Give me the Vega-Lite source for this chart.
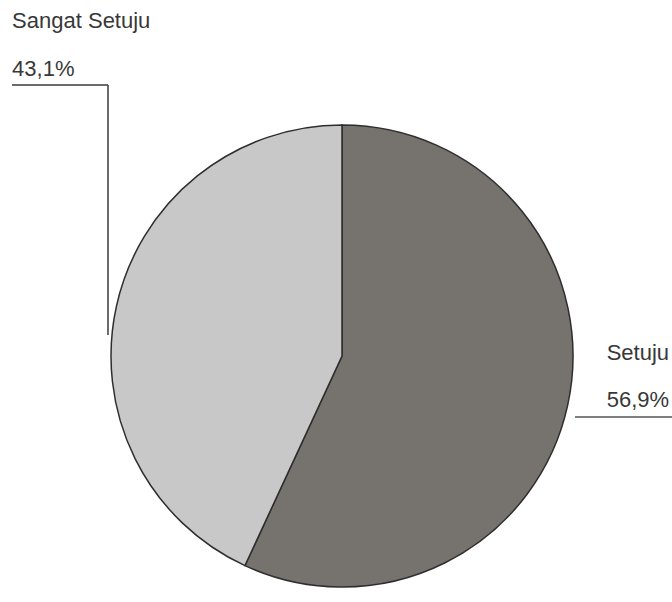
{
  "$schema": "https://vega.github.io/schema/vega-lite/v6.json",
  "width": 660,
  "height": 492,
  "autosize": {"type": "none"},
  "padding": {"left": 12, "top": 110, "right": 0, "bottom": 0},
  "background": "white",
  "config": {"view": {"stroke": null}},
  "data": {"values": [
    {"kategori": "Setuju", "persen": 56.9, "label": "56,9%"},
    {"kategori": "Sangat Setuju", "persen": 43.1, "label": "43,1%"}
  ]},
  "encoding": {
    "theta": {"field": "persen", "type": "quantitative", "stack": true},
    "order": {"field": "kategori", "sort": "descending"}
  },
  "layer": [
    {
      "mark": {"type": "arc", "outerRadius": 231, "stroke": "#2e2e2e", "strokeWidth": 1.5},
      "encoding": {
        "color": {"field": "kategori", "type": "nominal", "legend": null,
          "scale": {"domain": ["Setuju", "Sangat Setuju"], "range": ["#76736f", "#c8c8c8"]}}
      }
    },
    {
      "mark": {"type": "text", "radius": 270, "align": "left", "baseline": "alphabetic", "dx": 1, "dy": -54, "font": "Liberation Sans", "fontSize": 22, "fill": "#383838"},
      "encoding": {"text": {"condition": {"test": "datum.kategori === 'Setuju'", "field": "kategori"}, "value": ""}}
    },
    {
      "mark": {"type": "text", "radius": 270, "align": "left", "baseline": "alphabetic", "dx": 1, "dy": -7, "font": "Liberation Sans", "fontSize": 22, "fill": "#383838"},
      "encoding": {"text": {"condition": {"test": "datum.kategori === 'Setuju'", "field": "label"}, "value": ""}}
    },
    {
      "mark": {"type": "text", "radius": 240, "align": "left", "baseline": "alphabetic", "dx": -95.5, "dy": -276.4, "font": "Liberation Sans", "fontSize": 22, "fill": "#383838"},
      "encoding": {"text": {"condition": {"test": "datum.kategori === 'Sangat Setuju'", "field": "kategori"}, "value": ""}}
    },
    {
      "mark": {"type": "text", "radius": 240, "align": "left", "baseline": "alphabetic", "dx": -95.5, "dy": -228.4, "font": "Liberation Sans", "fontSize": 22, "fill": "#383838"},
      "encoding": {"text": {"condition": {"test": "datum.kategori === 'Sangat Setuju'", "field": "label"}, "value": ""}}
    },
    {
      "data": {"values": [{}]},
      "mark": {"type": "rule", "stroke": "#3a3a3a", "strokeWidth": 1.5},
      "encoding": {"x": {"value": 0}, "x2": {"value": 96}, "y": {"value": -25}, "y2": {"value": -25}, "theta": null, "order": null}
    },
    {
      "data": {"values": [{}]},
      "mark": {"type": "rule", "stroke": "#3a3a3a", "strokeWidth": 1.5},
      "encoding": {"x": {"value": 96}, "x2": {"value": 96}, "y": {"value": -25}, "y2": {"value": 225}, "theta": null, "order": null}
    },
    {
      "data": {"values": [{}]},
      "mark": {"type": "rule", "stroke": "#555555", "strokeWidth": 1.5},
      "encoding": {"x": {"value": 563}, "x2": {"value": 660}, "y": {"value": 307}, "y2": {"value": 307}, "theta": null, "order": null}
    }
  ]
}
